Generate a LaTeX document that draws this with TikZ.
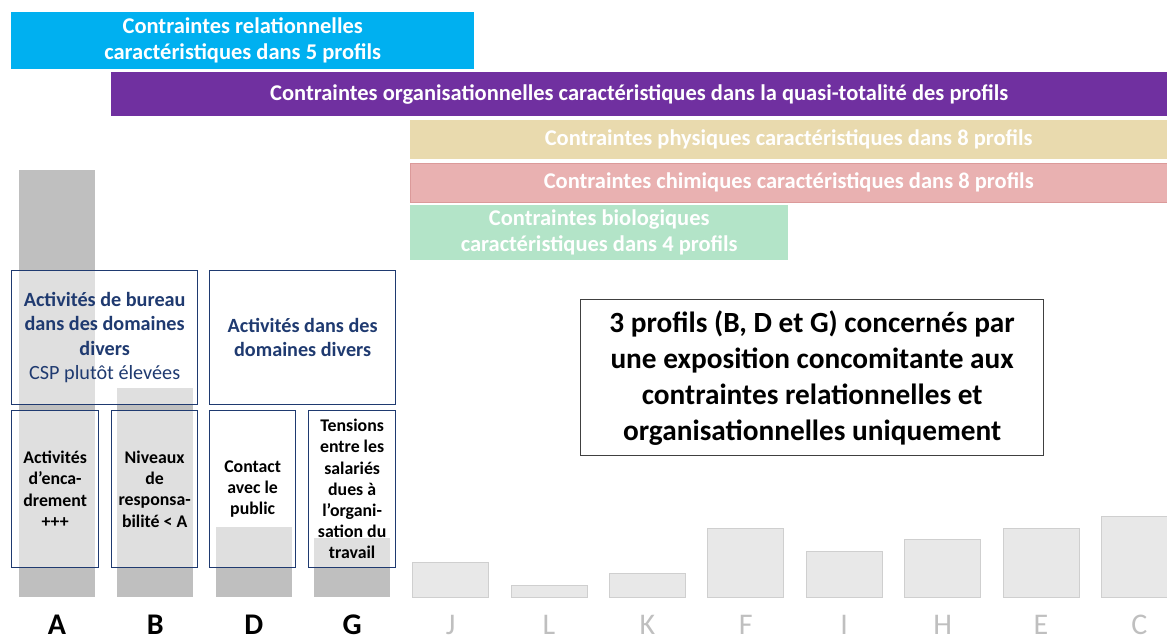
\documentclass[tikz,border=0pt]{standalone}
\usepackage{fontspec}
\setmainfont{Carlito}
\usetikzlibrary{positioning}
\definecolor{relblue}{HTML}{00B0F0}
\definecolor{orgpurple}{HTML}{7030A0}
\definecolor{phystan}{HTML}{E9DAAE}
\definecolor{chimred}{HTML}{E9B1B1}
\definecolor{chimedge}{HTML}{DB9A9A}
\definecolor{biogreen}{HTML}{B3E4C8}
\definecolor{boxnavy}{HTML}{1F3A70}
\definecolor{bardark}{HTML}{BFBFBF}
\definecolor{barlight}{HTML}{E8E8E8}
\definecolor{baredge}{HTML}{CFCFCF}
\tikzset{
  band/.style={anchor=north west, inner sep=0, minimum height=#1, text=white,
    font=\fontsize{22.5}{26}\selectfont\bfseries, align=center},
  groupbox/.style={anchor=north west, draw=boxnavy, line width=1.3pt, fill=white,
    fill opacity=0.5, text opacity=1, inner sep=0, minimum width=186pt,
    minimum height=134pt, align=center, text=boxnavy,
    font=\fontsize{20.2}{24.5}\selectfont},
  featbox/.style={anchor=north west, draw=boxnavy, line width=1.3pt, fill=white,
    fill opacity=0.5, text opacity=1, inner sep=0, minimum width=#1,
    minimum height=157pt, align=center,
    font=\fontsize{17.8}{21.2}\selectfont\bfseries},
  proflabel/.style={anchor=base, font=\fontsize{30}{30}\selectfont\bfseries,
    inner sep=0, text depth=0pt},
  faintlabel/.style={proflabel, text=bardark, font=\fontsize{30}{30}\selectfont}
}
\begin{document}
\begin{tikzpicture}[x=1pt,y=-1pt]
  \clip (0,0) rectangle (1167,643);
  % bars of the profiles
  \foreach \nm/\top [count=\i from 0] in {A/170,B/388,D/527,G/538} {
    \fill[bardark] ({19+98.4*\i},\top) rectangle ++(76,597-\top);
    \node[proflabel] (lab\nm) at ({57+98.4*\i},634) {\nm};
  }
  \foreach \nm/\top [count=\i from 4] in {J/562,L/585,K/573,F/528,I/551,H/539,E/528,C/516} {
    \draw[baredge, fill=barlight, line width=1pt] ({19+98.4*\i},\top) rectangle ++(76,597-\top);
    \node[faintlabel] (lab\nm) at ({57+98.4*\i},634) {\nm};
  }
  % constraint bands
  \node[band=57pt, fill=relblue, minimum width=463pt] (relat) at (11,12)
    {Contraintes relationnelles\\caractéristiques dans 5 profils};
  \node[band=44pt, fill=orgpurple, minimum width=1056pt] (organ) at (111,72)
    {Contraintes organisationnelles caractéristiques dans la quasi-totalité des profils};
  \node[band=39pt, fill=phystan, minimum width=757pt] (phys) at (410,120)
    {Contraintes physiques caractéristiques dans 8 profils};
  \node[band=39pt, fill=chimred, draw=chimedge, minimum width=757pt] (chim) at (410,163)
    {Contraintes chimiques caractéristiques dans 8 profils};
  \node[band=55pt, fill=biogreen, minimum width=378pt] (bio) at (410,205)
    {Contraintes biologiques\\caractéristiques dans 4 profils};
  % activity groups
  \node[groupbox] (bureau) at (11,270)
    {\textbf{Activités de bureau}\\\textbf{dans des domaines}\\\textbf{divers}\\CSP plutôt élevées};
  \node[groupbox] (divers) at (209,270)
    {\textbf{Activités dans des}\\\textbf{domaines divers}};
  \node[featbox=87pt] (encadr) at (11,410) {Activités\\d’enca-\\drement\\+++};
  \node[featbox=86pt] (respons) at (111,410) {Niveaux\\de\\responsa-\\bilité < A};
  \node[featbox=86pt] (public) at (209,410) {Contact\\avec le\\public};
  \node[featbox=87pt] (tensions) at (308,410)
    {Tensions\\entre les\\salariés\\dues à\\l’organi-\\sation du\\travail};
  % note
  \node[anchor=north west, draw=black!75, line width=1.3pt, fill=white, inner sep=0,
    minimum width=463pt, minimum height=156pt, align=center,
    font=\fontsize{29.3}{36}\selectfont\bfseries] (note) at (580,299)
    {3 profils (B, D et G) concernés par\\une exposition concomitante aux\\contraintes relationnelles et\\organisationnelles uniquement};
\end{tikzpicture}
\end{document}
